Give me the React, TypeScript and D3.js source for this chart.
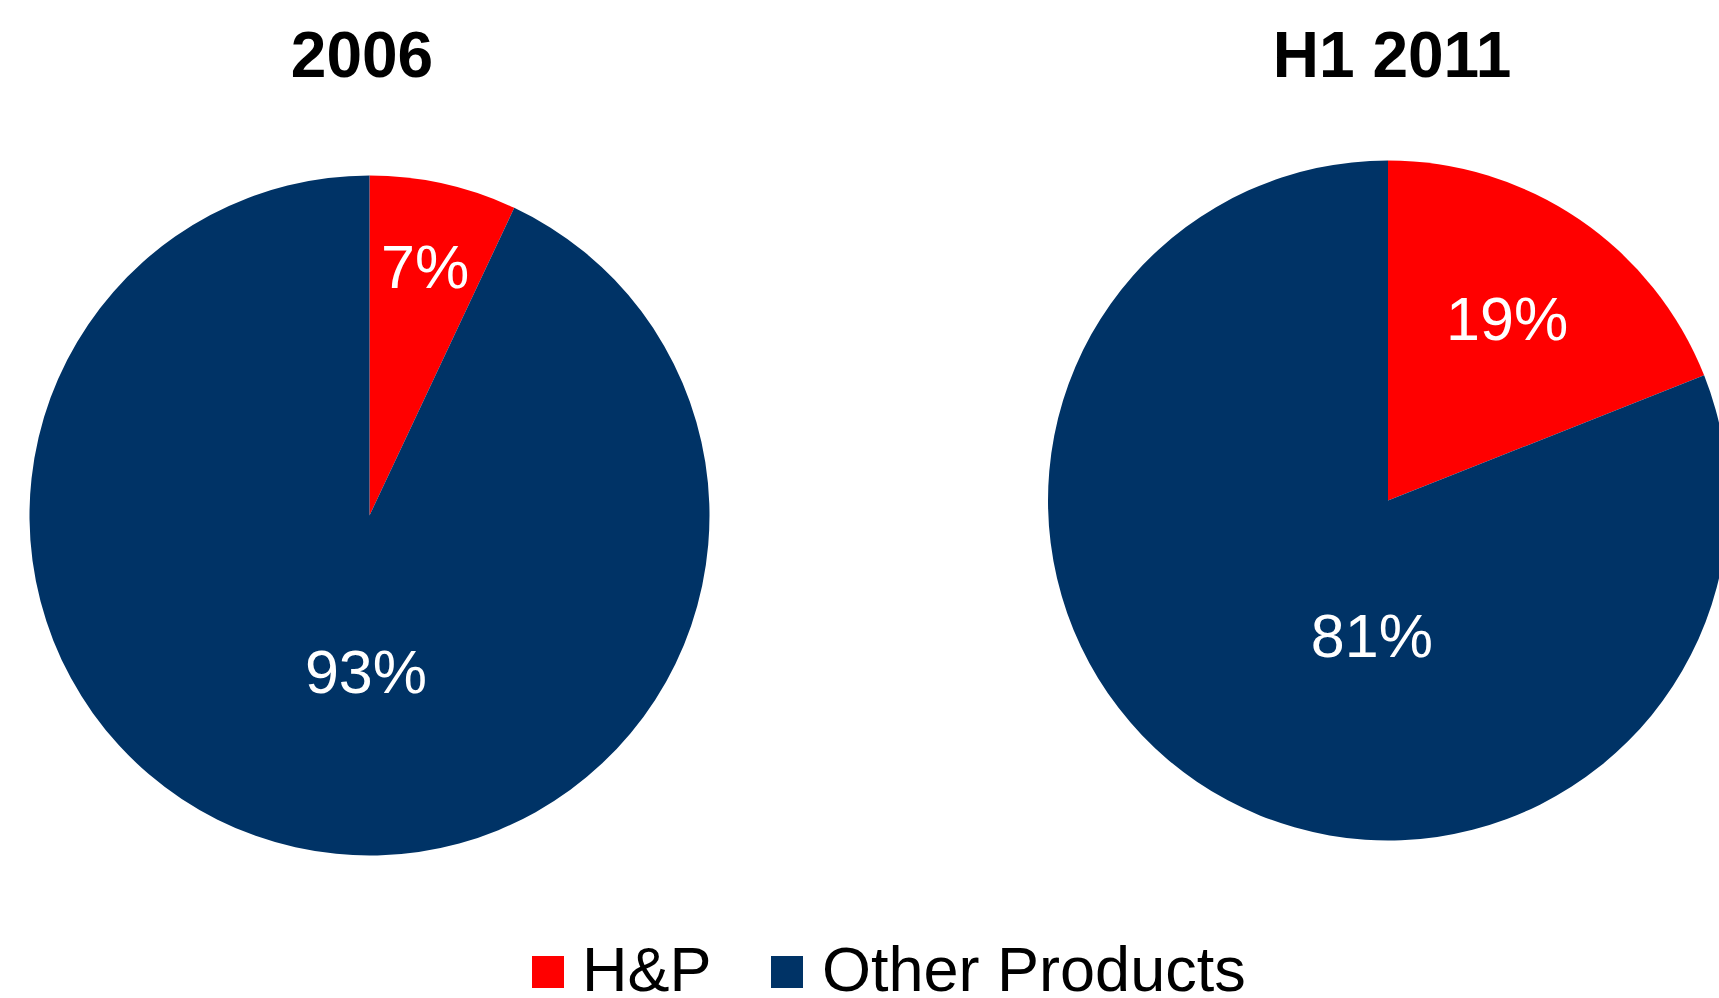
import React from "react";
import * as d3 from "d3";

const categories = ["H&P", "Other Products"];
const pieTitles = ["2006", "H1 2011"];
const values2006 = [7, 93];
const valuesH12011 = [19, 81];
const colors = ["#FF0000", "#003366"];

// label placement: [angle in degrees clockwise from top, radius fraction]
const labelPlacement2006 = [
  [12.6, 0.75],
  [181.3, 0.46],
];
const labelPlacementH12011 = [
  [33.2, 0.64],
  [186.8, 0.4],
];

const W = 1719;
const H = 998;
const R = 340;
const FONT = "'Liberation Sans', Arial, sans-serif";

const pies = [
  { title: pieTitles[0], values: values2006, labels: labelPlacement2006, cx: 369.5, cy: 515.5, titleX: 362 },
  { title: pieTitles[1], values: valuesH12011, labels: labelPlacementH12011, cx: 1388, cy: 500.5, titleX: 1392 },
];

export default function App() {
  const pieGen = d3.pie<number>().sort(null).value((d) => d);
  const arcGen = d3.arc<d3.PieArcDatum<number>>().innerRadius(0).outerRadius(R);
  const color = d3.scaleOrdinal<string, string>().domain(categories).range(colors);

  const legendItems = [
    { x: 532, textX: 582 },
    { x: 771, textX: 822 },
  ];

  return (
    <svg
      width={W}
      height={H}
      style={{ position: "absolute", left: 0, top: 0, background: "#fff" }}
      fontFamily={FONT}
    >
      <rect width={W} height={H} fill="#fff" />
      {pies.map((p, pi) => {
        const arcs = pieGen(p.values);
        return (
          <g key={pi}>
            <text x={p.titleX} y={77} textAnchor="middle" fontSize={64} fontWeight="bold" fill="#000">
              {p.title}
            </text>
            <g transform={`translate(${p.cx},${p.cy})`}>
              {arcs.map((a, i) => (
                <path key={i} d={arcGen(a) || ""} fill={color(categories[i])} />
              ))}
              {arcs.map((a, i) => {
                const [deg, rf] = p.labels[i];
                const rad = (deg * Math.PI) / 180;
                const x = Math.sin(rad) * rf * R;
                const y = -Math.cos(rad) * rf * R;
                return (
                  <text
                    key={"l" + i}
                    x={x}
                    y={y}
                    dy="0.35em"
                    textAnchor="middle"
                    fontSize={61}
                    fill="#fff"
                  >
                    {`${a.data}%`}
                  </text>
                );
              })}
            </g>
          </g>
        );
      })}
      {categories.map((c, i) => (
        <g key={c}>
          <rect x={legendItems[i].x} y={956} width={32} height={32} fill={color(c)} />
          <text x={legendItems[i].textX} y={991} fontSize={63} fill="#000">
            {c}
          </text>
        </g>
      ))}
    </svg>
  );
}
